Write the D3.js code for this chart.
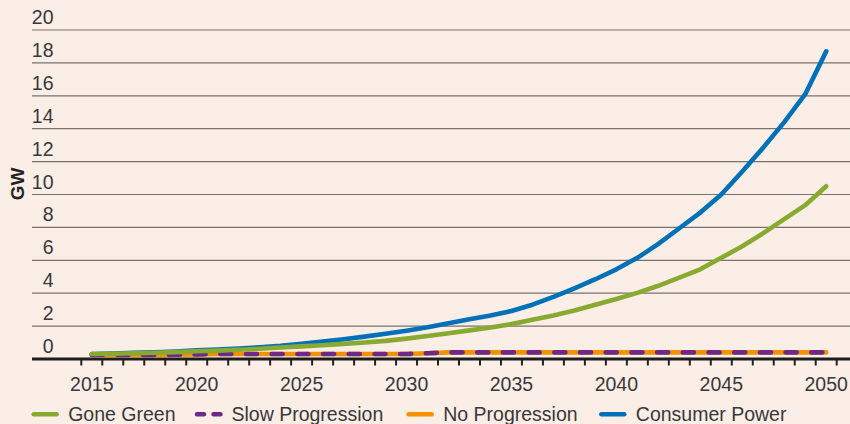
<!DOCTYPE html>
<html>
<head>
<meta charset="utf-8">
<script src="https://cdn.jsdelivr.net/npm/d3@7"></script>
<style>
  html, body { margin: 0; padding: 0; background: #fbeee7; }
  svg { display: block; font-family: "Liberation Sans", Arial, Helvetica, sans-serif; }
</style>
</head>
<body>
<svg id="chart" width="850" height="424"></svg>
<script>
const years = d3.range(2015, 2051);
const tickYears = [2015, 2020, 2025, 2030, 2035, 2040, 2045, 2050];
const yTicks = [0, 2, 4, 6, 8, 10, 12, 14, 16, 18, 20];

const goneGreen = [0.30, 0.32, 0.35, 0.38, 0.42, 0.47, 0.51, 0.56, 0.62, 0.70,
                   0.77, 0.84, 0.92, 1.00, 1.10, 1.24, 1.40, 1.57, 1.74, 1.92,
                   2.12, 2.38, 2.65, 2.95, 3.30, 3.65, 4.02, 4.45, 4.95, 5.45,
                   6.15, 6.85, 7.65, 8.50, 9.35, 10.50];
const slowProgression = [0.24, 0.24, 0.24, 0.24, 0.26, 0.28, 0.30, 0.30, 0.30, 0.30,
                         0.30, 0.30, 0.30, 0.30, 0.30, 0.30, 0.35, 0.40, 0.40, 0.40,
                         0.40, 0.40, 0.40, 0.40, 0.40, 0.40, 0.40, 0.40, 0.40, 0.40,
                         0.40, 0.40, 0.40, 0.40, 0.40, 0.40];
const noProgression = [0.24, 0.24, 0.24, 0.24, 0.26, 0.28, 0.30, 0.30, 0.30, 0.30,
                       0.30, 0.30, 0.30, 0.30, 0.30, 0.30, 0.35, 0.40, 0.40, 0.40,
                       0.40, 0.40, 0.40, 0.40, 0.40, 0.40, 0.40, 0.40, 0.40, 0.40,
                       0.40, 0.40, 0.40, 0.40, 0.40, 0.40];
const consumerPower = [0.30, 0.33, 0.37, 0.41, 0.46, 0.53, 0.58, 0.64, 0.71, 0.80,
                       0.93, 1.06, 1.20, 1.36, 1.53, 1.72, 1.93, 2.17, 2.42, 2.65,
                       2.92, 3.30, 3.78, 4.30, 4.85, 5.45, 6.15, 7.00, 7.95, 8.90,
                       10.00, 11.40, 12.85, 14.40, 16.10, 18.70];

const seriesNames = ["Gone Green", "Slow Progression", "No Progression", "Consumer Power"];
const colors = {
  "Gone Green": "#88aa30",
  "Slow Progression": "#6c2a86",
  "No Progression": "#f39100",
  "Consumer Power": "#0071b9"
};

const svg = d3.select("#chart");
const textColor = "#383838";
const fontSize = 19.5;

const x = d3.scaleBand().domain(years).range([81.3, 836.7]).padding(0);
const y = d3.scaleLinear().domain([0, 20]).range([359, 30]);
const xc = d => x(d) + x.bandwidth() / 2;

// gridlines
svg.append("g").selectAll("line")
  .data(yTicks.filter(v => v > 0))
  .join("line")
  .attr("x1", 32).attr("x2", 850)
  .attr("y1", d => y(d)).attr("y2", d => y(d))
  .attr("stroke", "#77726d").attr("stroke-width", 1.2);

// y tick labels
svg.append("g").selectAll("text")
  .data(yTicks)
  .join("text")
  .attr("x", 53.5).attr("y", d => y(d) - 6)
  .attr("text-anchor", "end")
  .attr("fill", textColor).attr("font-size", fontSize)
  .text(d => d);

// y axis title
svg.append("text")
  .attr("transform", "translate(24,184) rotate(-90)")
  .attr("text-anchor", "middle")
  .attr("font-weight", "bold").attr("font-size", 19)
  .attr("fill", "#222")
  .text("GW");

// x axis ticks (band boundaries)
const boundaries = years.map(d => x(d)).concat([x.range()[1]]);
svg.append("g").selectAll("line")
  .data(boundaries)
  .join("line")
  .attr("x1", d => d).attr("x2", d => d)
  .attr("y1", 359).attr("y2", 365.5)
  .attr("stroke", "#222").attr("stroke-width", 2);

// x axis line
svg.append("line")
  .attr("x1", 32).attr("x2", 850).attr("y1", 359).attr("y2", 359)
  .attr("stroke", "#1e1e1e").attr("stroke-width", 2.8);

// x labels
svg.append("g").selectAll("text")
  .data(tickYears)
  .join("text")
  .attr("x", d => xc(d)).attr("y", 390.7)
  .attr("text-anchor", "middle")
  .attr("fill", textColor).attr("font-size", fontSize)
  .text(d => d);

// lines
const line = d3.line().x((d, i) => xc(years[i])).y(d => y(d));
const lineW = 4.6;

svg.append("path").datum(consumerPower)
  .attr("d", line).attr("fill", "none")
  .attr("stroke", colors["Consumer Power"]).attr("stroke-width", lineW)
  .attr("stroke-linecap", "round").attr("stroke-linejoin", "round");

svg.append("path").datum(noProgression)
  .attr("d", line).attr("fill", "none")
  .attr("stroke", colors["No Progression"]).attr("stroke-width", lineW)
  .attr("stroke-linecap", "round").attr("stroke-linejoin", "round");

svg.append("path").datum(slowProgression)
  .attr("d", line).attr("fill", "none")
  .attr("stroke", colors["Slow Progression"]).attr("stroke-width", lineW)
  .attr("stroke-dasharray", "11,14.7")
  .attr("stroke-linecap", "round").attr("stroke-linejoin", "round");

svg.append("path").datum(goneGreen)
  .attr("d", line).attr("fill", "none")
  .attr("stroke", colors["Gone Green"]).attr("stroke-width", lineW)
  .attr("stroke-linecap", "round").attr("stroke-linejoin", "round");

// legend
const legendX = [31.7, 195, 406.7, 599.3];
const legendY = 414.3;
const lg = svg.append("g");
seriesNames.forEach((name, i) => {
  const x0 = legendX[i];
  if (name === "Slow Progression") {
    lg.append("line")
      .attr("x1", x0 + 2).attr("x2", x0 + 25.5)
      .attr("y1", legendY).attr("y2", legendY)
      .attr("stroke", colors[name]).attr("stroke-width", 4.5)
      .attr("stroke-linecap", "round").attr("stroke-dasharray", "7,9.5");
  } else {
    lg.append("line")
      .attr("x1", x0 + 2).attr("x2", x0 + 25)
      .attr("y1", legendY).attr("y2", legendY)
      .attr("stroke", colors[name]).attr("stroke-width", 4.5)
      .attr("stroke-linecap", "round");
  }
  lg.append("text")
    .attr("x", x0 + 36.5).attr("y", 421)
    .attr("fill", textColor).attr("font-size", fontSize)
    .text(name);
});
</script>
</body>
</html>
